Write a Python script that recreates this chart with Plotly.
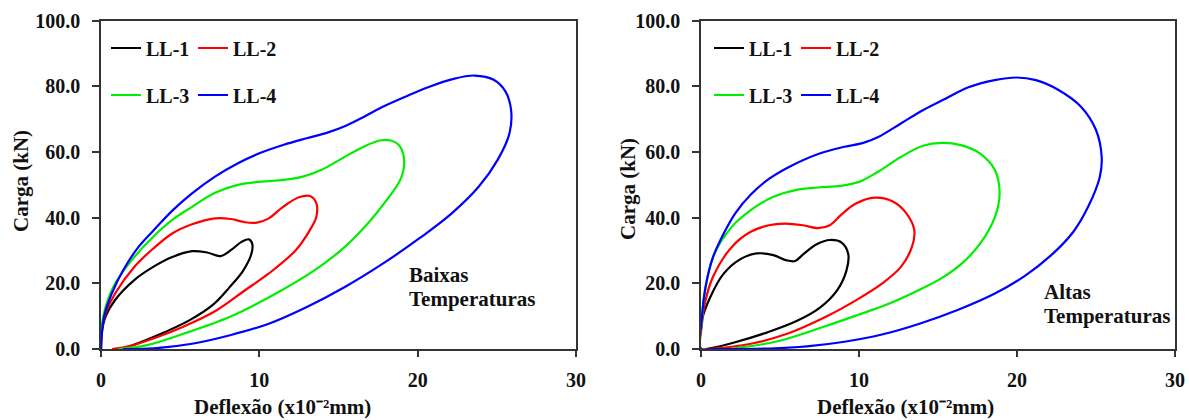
import plotly.graph_objects as go

# ---------------- data ----------------
series_names = ["LL-1", "LL-2", "LL-3", "LL-4"]
series_colors = ["#000000", "#ff0000", "#00ee00", "#0000ff"]

# Baixas Temperaturas (left)
low_ll1_x = [0, 0.05, 0.3, 0.9, 2.1, 3.3, 4.5, 5.75, 6.7, 7.55, 8.2, 8.9, 9.35, 9.55, 9.5, 8.97, 8.1, 7.1, 5.6, 3.5, 2.04, 1.3]
low_ll1_y = [0, 5, 10, 15, 21, 25, 28, 29.8, 29.4, 28.3, 30.1, 32.7, 33.4, 32.1, 29, 23.8, 18.7, 13.6, 8.8, 4.0, 1.2, 0]
low_ll2_x = [0, 0.05, 0.3, 0.9, 2.1, 3.3, 4.5, 5.75, 7.2, 8.2, 9.1, 9.85, 10.6, 11.5, 12.5, 13.2, 13.6, 13.6, 13.2, 12.3, 10.6, 9.1, 7.2, 5.2, 3.3, 1.8, 0.7]
low_ll2_y = [0, 6, 11, 17, 25, 30.6, 35.2, 38, 39.8, 39.6, 38.6, 38.5, 39.8, 43.3, 46.2, 46.6, 44.4, 40.3, 36.3, 30.1, 23, 17.9, 11.5, 6.8, 3.2, 0.9, 0]
low_ll3_x = [0, 0.05, 0.3, 0.9, 2.1, 3.3, 4.5, 5.75, 7.2, 8.65, 10.1, 11.55, 12.75, 13.9, 15.2, 16.5, 17.6, 18.3, 18.9, 19.15, 18.9, 18.05, 16.85, 15.4, 13.5, 11.05, 8.15, 5.25, 2.85, 1.1]
low_ll3_y = [0, 7, 13, 20, 28, 34.2, 39.3, 43.3, 47.6, 50, 51, 51.5, 52.5, 54.5, 58, 61.4, 63.5, 63.5, 61.6, 56.6, 51.5, 45.4, 38.2, 31.1, 24, 16.9, 9.8, 4.7, 1.1, 0]
low_ll4_x = [0, 0.19, 0.68, 1.4, 2.37, 3.33, 4.54, 5.75, 7.2, 8.65, 10, 11.55, 13, 14.3, 15.5, 16.7, 17.9, 19.3, 20.7, 22.2, 23.6, 24.8, 25.55, 25.9, 25.8, 25.05, 23.85, 22.15, 20.25, 17.8, 15.4, 13, 10.6, 8.15, 5.75, 3.33, 1.4]
low_ll4_y = [0, 9.8, 16.9, 24, 31.1, 36.2, 42.3, 47.4, 52.5, 56.6, 59.6, 62.2, 64.2, 65.9, 68.1, 71.0, 74.0, 77.0, 79.8, 82.2, 83.3, 82, 78.4, 72.8, 65.7, 57.6, 49.4, 41.3, 34.2, 26, 18.9, 12.8, 7.7, 4.2, 1.6, 0.2, 0]

# Altas Temperaturas (right)
high_ll1_x = [0, 0.04, 0.57, 1.41, 2.47, 3.52, 4.58, 5.42, 5.95, 6.48, 7.32, 8.16, 8.9, 9.32, 9.2, 8.59, 7.53, 6.05, 4.16, 2.05, 0.57, 0]
high_ll1_y = [0, 8.5, 15.6, 22.8, 27.3, 29.1, 28.6, 27, 26.8, 28.9, 31.9, 33.2, 32.4, 28.9, 23.8, 17.7, 12.6, 8.5, 5, 1.9, 0.2, 0]
high_ll2_x = [0, 0.05, 0.25, 0.76, 1.95, 3.15, 4.3, 5.3, 6.45, 7.4, 8.15, 8.85, 9.8, 11, 12.2, 13, 13.5, 13.35, 12.65, 11.45, 9.8, 7.9, 5.5, 3.15, 0.76, 0]
high_ll2_y = [0, 7, 14, 22, 31.1, 35.7, 37.7, 38.2, 37.7, 36.8, 37.7, 40.8, 44.3, 46.1, 44.8, 41.3, 36.2, 31.1, 25, 19.9, 14.8, 9.8, 4.7, 1.6, 0.1, 0]
high_ll3_x = [0, 0.05, 0.2, 0.76, 1.95, 3.15, 4.55, 5.99, 7.4, 8.85, 10, 11.2, 12.65, 14.05, 15.25, 16.45, 17.65, 18.6, 18.9, 18.6, 17.65, 16.5, 15.2, 13.6, 11.8, 10, 7.9, 5.05, 2.65, 0]
high_ll3_y = [0, 8, 16, 28, 37.2, 42.3, 46.3, 48.4, 49.2, 49.7, 50.9, 54, 58.5, 61.9, 62.8, 62.1, 59.6, 54.5, 47.4, 40.2, 32.0, 26.0, 21.5, 17.5, 13.6, 10.5, 7.0, 2.6, 0.6, 0]
high_ll4_x = [0, 0.05, 0.29, 0.76, 1.47, 2.19, 3.14, 4.3, 5.51, 7.42, 9.08, 10.27, 11.22, 12.65, 14.07, 15.5, 16.92, 18.59, 19.97, 21.2, 22.63, 24.05, 25, 25.36, 25.24, 24.5, 23.58, 22.15, 20.5, 18.6, 16.2, 13.83, 11.45, 9.08, 6.7, 4.33, 0.76, 0]
high_ll4_y = [0, 9, 19, 28, 35.5, 41.5, 47, 51.8, 55.3, 59.4, 61.6, 62.8, 64.6, 68.7, 72.8, 76.3, 79.7, 81.9, 82.7, 81.9, 78.9, 73.8, 66.7, 58.5, 52.4, 43.3, 35.8, 28.5, 22.3, 16.9, 11.8, 7.7, 4.4, 2.2, 0.8, 0.15, 0, 0]

x_ticks = [0, 10, 20, 30]
y_ticks = [0, 20, 40, 60, 80, 100]
x_title = "Deflexão (x10⁻²mm)"
y_title = "Carga (kN)"
panel_labels = [["Baixas", "Temperaturas"], ["Altas", "Temperaturas"]]

low = [(low_ll1_x, low_ll1_y), (low_ll2_x, low_ll2_y), (low_ll3_x, low_ll3_y), (low_ll4_x, low_ll4_y)]
high = [(high_ll1_x, high_ll1_y), (high_ll2_x, high_ll2_y), (high_ll3_x, high_ll3_y), (high_ll4_x, high_ll4_y)]

# ---------------- figure ----------------
FONT = "Liberation Serif"
TXT = "#111111"
W, H = 1189, 420

fig = go.Figure()

def add_panel(data, xa, ya, leg_a, leg_b):
    for i, (xs, ys) in enumerate(data):
        fig.add_trace(go.Scatter(
            x=xs, y=ys, mode="lines", name=series_names[i],
            line=dict(color=series_colors[i], width=2.2, shape="spline", smoothing=1.0),
            xaxis=xa, yaxis=ya, legend=(leg_a if i < 2 else leg_b),
            hoverinfo="skip"))

add_panel(low, "x", "y", "legend", "legend2")
add_panel(high, "x2", "y2", "legend3", "legend4")

ydom = [(H - 349) / H, (H - 20.7) / H]
xdom1 = [101 / W, 576 / W]
xdom2 = [701 / W, 1175 / W]

axis_common = dict(
    showline=True, linecolor="#333333", linewidth=1.5, mirror=True,
    ticks="outside", tickcolor="#333333", tickwidth=1.5,
    showgrid=False, zeroline=False, automargin=False,
    tickfont=dict(family=FONT, size=20, color=TXT, weight="bold"),
)
xcommon = dict(axis_common, range=[0, 30], tickvals=x_ticks, ticklen=6, ticklabelstandoff=6)
ycommon = dict(axis_common, range=[0, 100], tickvals=y_ticks, tickformat=".1f", ticklen=7, ticklabelstandoff=8)

legend_common = dict(
    orientation="h", bgcolor="rgba(0,0,0,0)", borderwidth=0,
    font=dict(family=FONT, size=20, color=TXT, weight="bold"),
    xanchor="left", yanchor="middle", xref="paper", yref="paper",
    entrywidthmode="pixels", entrywidth=42, tracegroupgap=0,
)

title_font = dict(family=FONT, size=21, color=TXT, weight="bold")
annotations = [
    dict(text=x_title, x=282 / W, y=1 - 407 / H, xref="paper", yref="paper", showarrow=False,
         font=title_font, xanchor="center", yanchor="middle"),
    dict(text=x_title, x=905 / W, y=1 - 407 / H, xref="paper", yref="paper", showarrow=False,
         font=title_font, xanchor="center", yanchor="middle"),
    dict(text=y_title, x=21 / W, y=1 - 181 / H, xref="paper", yref="paper", showarrow=False, textangle=-90,
         font=title_font, xanchor="center", yanchor="middle"),
    dict(text=y_title, x=628 / W, y=1 - 189 / H, xref="paper", yref="paper", showarrow=False, textangle=-90,
         font=title_font, xanchor="center", yanchor="middle"),
]
label_pos = [(407, 275, 299), (1042, 292, 316)]
for (lx, ly1, ly2), lines in zip(label_pos, panel_labels):
    for ly, t in zip((ly1, ly2), lines):
        annotations.append(dict(text=t, x=lx / W, y=1 - ly / H, xref="paper", yref="paper", showarrow=False,
                                font=title_font, xanchor="left", yanchor="middle"))

fig.update_layout(
    width=W, height=H,
    margin=dict(l=0, r=0, t=0, b=0, autoexpand=False),
    paper_bgcolor="white", plot_bgcolor="white",
    xaxis=dict(xcommon, domain=xdom1, anchor="y"),
    yaxis=dict(ycommon, domain=ydom, anchor="x"),
    xaxis2=dict(xcommon, domain=xdom2, anchor="y2"),
    yaxis2=dict(ycommon, domain=ydom, anchor="x2"),
    legend=dict(legend_common, x=106 / W, y=1 - 48 / H),
    legend2=dict(legend_common, x=106 / W, y=1 - 95 / H),
    legend3=dict(legend_common, x=709 / W, y=1 - 48 / H),
    legend4=dict(legend_common, x=709 / W, y=1 - 95 / H),
    annotations=annotations,
    showlegend=True,
)

fig.write_html("out.html")
